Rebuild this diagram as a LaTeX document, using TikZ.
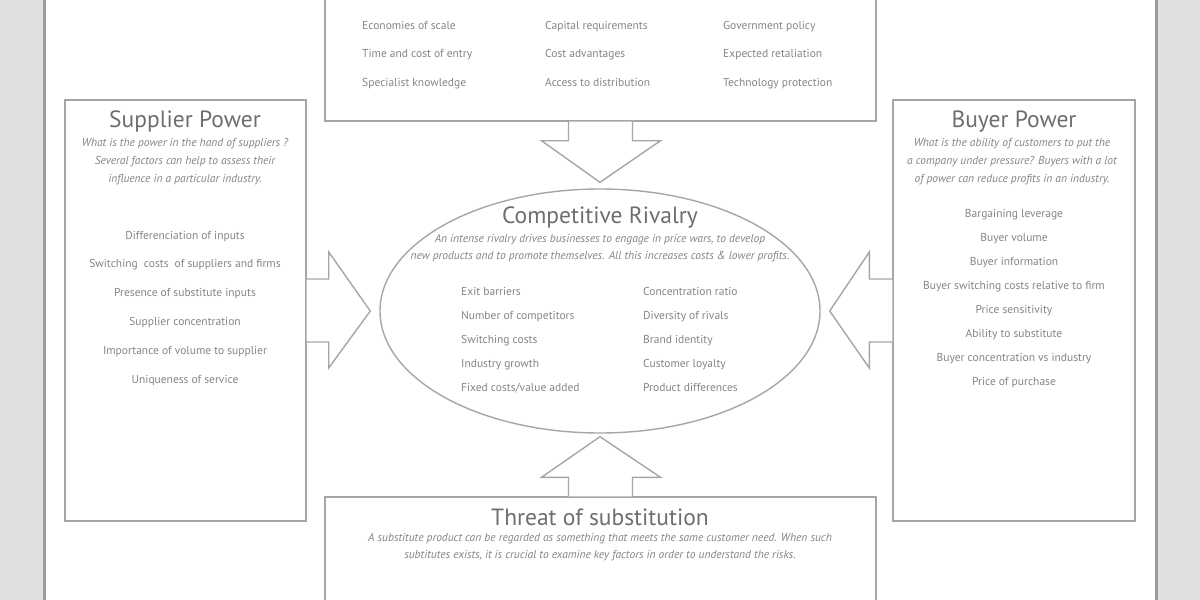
\documentclass[tikz,border=0pt]{standalone}
\usepackage{fontspec}
\setmainfont{PT Sans}
\usetikzlibrary{calc,shapes.geometric}

\definecolor{pagegray}{HTML}{E0E0E0}
\definecolor{edgegray}{HTML}{9C9C9C}
\definecolor{linegray}{HTML}{A6A6A6}
\definecolor{titlegray}{HTML}{6E6E6E}
\definecolor{textgray}{HTML}{858585}

\tikzset{
  panel/.style={draw=linegray, line width=1.4pt, fill=white, inner sep=0pt},
  heading/.style={text=titlegray, font=\fontsize{23.5}{26}\selectfont, inner sep=0pt, text height=16pt, text depth=4pt},
  blurb/.style={text=textgray, font=\fontsize{11.5}{18}\selectfont\itshape, align=center},
  factor/.style={text=textgray, font=\fontsize{11.5}{13}\selectfont, inner sep=0pt, text height=8.5pt, text depth=2.5pt},
  bigarrow/.style={draw=linegray, line width=1.4pt, fill=white, line join=miter},
}

\begin{document}
\begin{tikzpicture}[x=1pt, y=-1pt]
    \useasboundingbox (0,0) rectangle (1200,600);
    \clip (0,0) rectangle (1200,600);

    % Page
    \fill[pagegray] (0,0) rectangle (1200,600);
    \fill[white] (46,0) rectangle (1155,600);
    \draw[edgegray, line width=3pt] (44.5,0) -- (44.5,600);
    \draw[edgegray, line width=3pt] (1156.5,0) -- (1156.5,600);

    % Boxes
    \node[panel, minimum width=551pt, minimum height=131pt] (entry) at (600.5,55.5) {};
    \node[panel, minimum width=241pt, minimum height=421pt] (supplier) at (185.5,310.5) {};
    \node[panel, minimum width=242pt, minimum height=421pt] (buyer) at (1014,310.5) {};
    \node[panel, minimum width=551pt, minimum height=113pt] (substitute) at (600.5,553.5) {};
    \node[panel, ellipse, minimum width=440pt, minimum height=244pt] (rivalry) at (600,311) {};

    % Arrows into rivalry
    \draw[bigarrow] ($(entry.south)+(-32,0)$) -- ($(entry.south)+(-32,19)$) -- ($(entry.south)+(-59,19)$)
        -- ($(rivalry.north)+(0,-6)$) -- ($(entry.south)+(60,19)$) -- ($(entry.south)+(32,19)$) -- ($(entry.south)+(32,0)$);
    \draw[bigarrow] ($(supplier.east)+(0,-31.5)$) -- ($(supplier.east)+(22,-31.5)$) -- ($(supplier.east)+(22,-58.5)$)
        -- ($(rivalry.west)+(-9,0)$) -- ($(supplier.east)+(22,57.5)$) -- ($(supplier.east)+(22,31.5)$) -- ($(supplier.east)+(0,31.5)$);
    \draw[bigarrow] ($(buyer.west)+(0,-31.5)$) -- ($(buyer.west)+(-23,-31.5)$) -- ($(buyer.west)+(-23,-58.5)$)
        -- ($(rivalry.east)+(9,0)$) -- ($(buyer.west)+(-23,57.5)$) -- ($(buyer.west)+(-23,31.5)$) -- ($(buyer.west)+(0,31.5)$);
    \draw[bigarrow] ($(substitute.north)+(-32,0)$) -- ($(substitute.north)+(-32,-19)$) -- ($(substitute.north)+(-59,-19)$)
        -- ($(rivalry.south)+(0,3)$) -- ($(substitute.north)+(60,-19)$) -- ($(substitute.north)+(32,-19)$) -- ($(substitute.north)+(32,0)$);

    % New entrants
    \foreach \txt [count=\i] in {Economies of scale, Time and cost of entry, Specialist knowledge}
        \node[factor, anchor=west] (entryA\i) at (362,{26+28.6*(\i-1)}) {\txt};
    \foreach \txt [count=\i] in {Capital requirements, Cost advantages, Access to distribution}
        \node[factor, anchor=west] (entryB\i) at (545,{26+28.6*(\i-1)}) {\txt};
    \foreach \txt [count=\i] in {Government policy, Expected retaliation, Technology protection}
        \node[factor, anchor=west] (entryC\i) at (723,{26+28.6*(\i-1)}) {\txt};

    % Supplier power
    \node[heading] (supplierTitle) at (185,121) {Supplier Power};
    \node[blurb] (supplierText) at (185,162) {What is the power in the hand of suppliers ?\\
        Several factors can help to assess their\\ influence in a particular industry.};
    \foreach \txt [count=\i] in {Differenciation of inputs, Switching\ \ costs\ \ of suppliers and firms,
        Presence of substitute inputs, Supplier concentration, Importance of volume to supplier, Uniqueness of service}
        \node[factor] (supplier\i) at (185,{236+28.8*(\i-1)}) {\txt};

    % Buyer power
    \node[heading] (buyerTitle) at (1014,121) {Buyer Power};
    \node[blurb] (buyerText) at (1012,162) {What is the ability of customers to put the\\
        a company under pressure? Buyers with a lot\\ of power can reduce profits in an industry.};
    \foreach \txt [count=\i] in {Bargaining leverage, Buyer volume, Buyer information, Buyer switching costs relative to firm,
        Price sensitivity, Ability to substitute, Buyer concentration vs industry, Price of purchase}
        \node[factor] (buyer\i) at (1014,{214+24*(\i-1)}) {\txt};

    % Competitive rivalry
    \node[heading] (rivalryTitle) at (600,217) {Competitive Rivalry};
    \node[blurb, font=\fontsize{11.5}{17}\selectfont\itshape] (rivalryText) at (600,248.5)
        {An intense rivalry drives businesses to engage in price wars, to develop\\
        new products and to promote themselves. All this increases costs \& lower profits.};
    \foreach \txt [count=\i] in {Exit barriers, Number of competitors, Switching costs, Industry growth, Fixed costs/value added}
        \node[factor, anchor=west] (rivalryA\i) at (461,{292+24*(\i-1)}) {\txt};
    \foreach \txt [count=\i] in {Concentration ratio, Diversity of rivals, Brand identity, Customer loyalty, Product differences}
        \node[factor, anchor=west] (rivalryB\i) at (643,{292+24*(\i-1)}) {\txt};

    % Threat of substitution
    \node[heading] (substituteTitle) at (600,519) {Threat of substitution};
    \node[blurb, font=\fontsize{11.5}{17}\selectfont\itshape] (substituteText) at (600,547.5)
        {A substitute product can be regarded as something that meets the same customer need. When such\\
        subtitutes exists, it is crucial to examine key factors in order to understand the risks.};
\end{tikzpicture}
\end{document}
